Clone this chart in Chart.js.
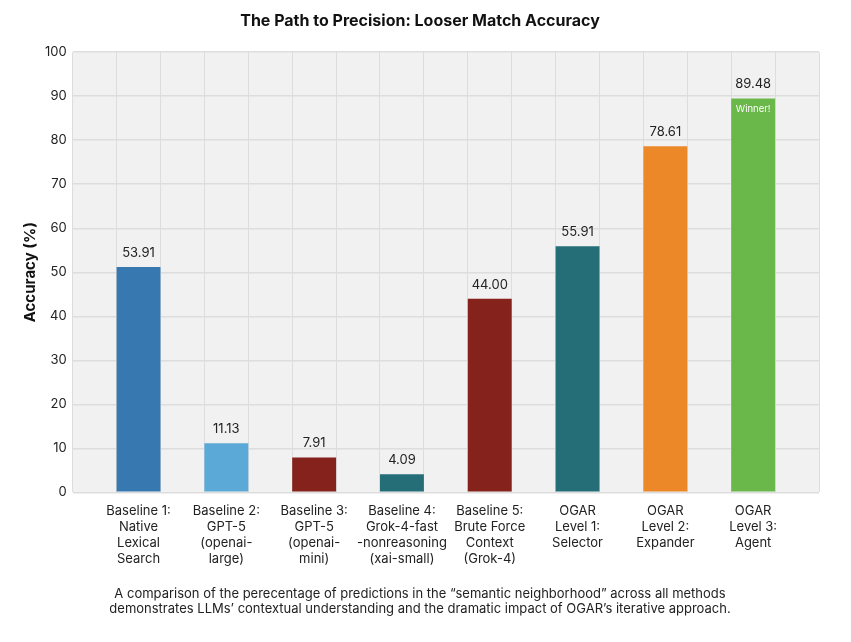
<!DOCTYPE html>
<html>
<head>
<meta charset="utf-8">
<script src="https://cdn.jsdelivr.net/npm/chart.js@4.4.1/dist/chart.umd.min.js"></script>
<style>
    body { margin: 0; background: #ffffff; }
    #wrap { width: 851px; height: 642px; }
</style>
</head>
<body>
<div id="wrap"><canvas id="chart"></canvas></div>
<script>
const categories = [
    ['Baseline 1:', 'Native', 'Lexical', 'Search'],
    ['Baseline 2:', 'GPT-5', '(openai-', 'large)'],
    ['Baseline 3:', 'GPT-5', '(openai-', 'mini)'],
    ['Baseline 4:', 'Grok-4-fast', '-nonreasoning', '(xai-small)'],
    ['Baseline 5:', 'Brute Force', 'Context', '(Grok-4)'],
    ['OGAR', 'Level 1:', 'Selector'],
    ['OGAR', 'Level 2:', 'Expander'],
    ['OGAR', 'Level 3:', 'Agent']
];
// bar heights as drawn (the first bar sits lower than its printed label)
const accuracy = [51.2, 11.13, 7.91, 4.09, 44.0, 55.91, 78.61, 89.48];
const valueLabels = ['53.91', '11.13', '7.91', '4.09', '44.00', '55.91', '78.61', '89.48'];
const barColors = ['#3778b0', '#5aa9d6', '#85221b', '#256e78', '#85221b', '#256e78', '#ec8828', '#6ab74a'];
const yTicks = [0, 10, 20, 30, 40, 50, 60, 70, 80, 90, 100];
const winnerIndex = 7;

const fontFamily = 'Inter, "Liberation Sans", sans-serif';

const plotBackground = {
    id: 'plotBackground',
    beforeDraw(chart) {
        const { ctx, chartArea } = chart;
        ctx.save();
        ctx.fillStyle = '#f0f1f0';
        ctx.fillRect(chartArea.left, chartArea.top, chartArea.right - chartArea.left, chartArea.bottom - chartArea.top);
        ctx.restore();
    }
};

const barLabels = {
    id: 'barLabels',
    afterDatasetsDraw(chart) {
        const { ctx } = chart;
        const meta = chart.getDatasetMeta(0);
        ctx.save();
        ctx.textAlign = 'center';
        ctx.textBaseline = 'middle';
        meta.data.forEach((bar, i) => {
            ctx.fillStyle = '#222222';
            ctx.font = '13px ' + fontFamily;
            ctx.fillText(valueLabels[i], bar.x, bar.y - 14);
            if (i === winnerIndex) {
                ctx.fillStyle = '#ffffff';
                ctx.font = '9.5px ' + fontFamily;
                ctx.fillText('Winner!', bar.x, bar.y + 11);
            }
        });
        ctx.restore();
    }
};

const points = accuracy.map((v, i) => ({ x: i, y: v }));

new Chart(document.getElementById('chart'), {
    type: 'bar',
    data: {
        datasets: [{
            data: points,
            backgroundColor: barColors,
            borderWidth: 0,
            // ticks are every quarter step, so this gives half a category
            barPercentage: 2.0,
            categoryPercentage: 1.0
        }]
    },
    options: {
        responsive: true,
        maintainAspectRatio: false,
        animation: false,
        layout: { padding: { left: 21, right: 32, top: 8, bottom: 25 } },
        plugins: {
            legend: { display: false },
            tooltip: { enabled: false },
            title: {
                display: true,
                text: 'The Path to Precision: Looser Match Accuracy',
                color: '#111111',
                font: { family: fontFamily, size: 16, weight: 'bold' },
                padding: { top: 4, bottom: 21 }
            },
            subtitle: {
                display: true,
                position: 'bottom',
                text: [
                    'A comparison of the perecentage of predictions in the \u201csemantic neighborhood\u201d across all methods',
                    'demonstrates LLMs\u2019 contextual understanding and the dramatic impact of OGAR\u2019s iterative approach.'
                ],
                color: '#222222',
                font: { family: fontFamily, size: 13, lineHeight: 1.2 },
                padding: { top: 8, bottom: 0 }
            }
        },
        scales: {
            x: {
                type: 'linear',
                offset: false,
                min: -0.75,
                max: 7.75,
                afterBuildTicks: (scale) => {
                    const ticks = [];
                    for (let v = -0.75; v <= 7.751; v += 0.25) {
                        ticks.push({ value: Math.round(v * 100) / 100 });
                    }
                    scale.ticks = ticks;
                },
                grid: {
                    drawTicks: false,
                    offset: false,
                    color: (ctx) => {
                        const v = ctx.tick ? ctx.tick.value : 0;
                        const frac = ((v % 0.5) + 0.5) % 0.5;
                        return Math.abs(frac - 0.25) < 0.01 ? '#dcdddc' : 'rgba(0,0,0,0)';
                    }
                },
                border: { display: false },
                ticks: {
                    autoSkip: false,
                    maxRotation: 0,
                    minRotation: 0,
                    padding: 11,
                    color: '#222222',
                    font: { family: fontFamily, size: 13, lineHeight: 1.22 },
                    callback: (value) => Number.isInteger(value) && value >= 0 && value < categories.length ? categories[value] : ''
                }
            },
            y: {
                min: 0,
                max: 100,
                afterBuildTicks: (scale) => {
                    scale.ticks = yTicks.map(v => ({ value: v }));
                },
                grid: { color: '#dcdddc', lineWidth: 1.5, drawTicks: false },
                border: { display: false },
                ticks: {
                    padding: 6,
                    color: '#222222',
                    font: { family: fontFamily, size: 13 }
                },
                title: {
                    display: true,
                    text: 'Accuracy (%)',
                    color: '#111111',
                    font: { family: fontFamily, size: 15, weight: 'bold' },
                    padding: { top: 0, bottom: 0 }
                }
            }
        }
    },
    plugins: [plotBackground, barLabels]
});
</script>
</body>
</html>
